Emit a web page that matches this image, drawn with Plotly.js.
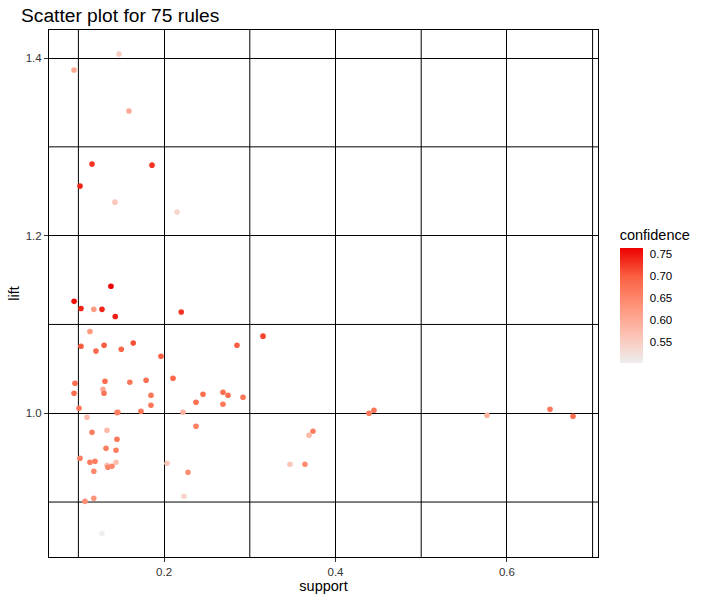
<!DOCTYPE html>
<html>
<head>
<meta charset="utf-8">
<script src="https://cdn.plot.ly/plotly-3.0.1.min.js"></script>
<style>html,body{margin:0;padding:0;background:#fff;}#chart{width:706px;height:602px;}</style>
</head>
<body>
<div id="chart"></div>
<script>
const support = [0.138,0.095,0.103,0.118,0.1275,0.143,0.220,0.1135,0.103,0.130,0.1205,0.164,0.150,0.285,0.1964,0.3154,0.096,0.131,0.160,0.179,0.2104,0.0949,0.1287,0.1299,0.1847,0.1847,0.2454,0.2372,0.2687,0.2746,0.2687,0.2921,0.1007,0.145,0.173,0.2221,0.110,0.2372,0.1159,0.1334,0.145,0.1322,0.1439,0.1019,0.1135,0.1194,0.1334,0.1439,0.1345,0.1392,0.118,0.2034,0.2279,0.2232,0.1077,0.118,0.1275,0.3737,0.3691,0.3469,0.3644,0.4391,0.4449,0.5768,0.6503,0.6771,0.1474,0.0949,0.159,0.1159,0.1859,0.1019,0.1427,0.2151,0.146];
const lift = [1.143,1.126,1.118,1.117,1.117,1.109,1.114,1.092,1.0755,1.0766,1.070,1.079,1.072,1.0766,1.0642,1.0868,1.0338,1.0361,1.0349,1.0372,1.0394,1.0225,1.027,1.0225,1.0203,1.009,1.0214,1.0124,1.0237,1.0203,1.0101,1.018,1.0056,1.0007,1.0023,1.0011,0.9955,0.9854,0.9786,0.9808,0.9707,0.9606,0.9583,0.9493,0.9448,0.9459,0.9414,0.9448,0.9392,0.9403,0.9346,0.9437,0.9335,0.9065,0.9008,0.9042,0.8648,0.9797,0.9752,0.9425,0.9425,1.0000,1.0034,0.9977,1.0045,0.9966,1.4045,1.3865,1.3403,1.2806,1.2794,1.2558,1.2377,1.2265,1.001];
const confidence = [0.765,0.755,0.74,0.62,0.74,0.745,0.73,0.625,0.70,0.70,0.685,0.71,0.69,0.70,0.70,0.72,0.68,0.68,0.67,0.68,0.69,0.68,0.60,0.67,0.67,0.67,0.68,0.68,0.68,0.68,0.67,0.67,0.67,0.66,0.67,0.59,0.58,0.66,0.66,0.58,0.67,0.66,0.66,0.66,0.66,0.66,0.57,0.57,0.65,0.65,0.65,0.56,0.64,0.54,0.64,0.63,0.503,0.66,0.58,0.56,0.64,0.67,0.67,0.59,0.67,0.68,0.55,0.60,0.60,0.73,0.73,0.74,0.56,0.54,0.66];

const xTickVals = [0.2, 0.4, 0.6];
const xTickText = ["0.2", "0.4", "0.6"];
const yTickVals = [1.0, 1.2, 1.4];
const yTickText = ["1.0", "1.2", "1.4"];
const xMinorGrid = [0.1, 0.3, 0.5, 0.7];
const yMinorGrid = [0.9, 1.1, 1.3];
const legendTicks = [0.55, 0.60, 0.65, 0.70, 0.75];

const FONT = "Liberation Sans, Arial, sans-serif";

const trace = {
  type: "scatter",
  mode: "markers",
  x: support,
  y: lift,
  marker: {
    size: 5.6,
    color: confidence,
    colorscale: [[0,"#EEEEEE"],[0.25,"rgb(252,193,178)"],[0.5,"rgb(255,147,120)"],[0.75,"rgb(250,96,65)"],[1,"#EE0000"]],
    line: {width: 0},
    showscale: true,
    colorbar: {
      title: {text: "confidence", side: "top", font: {family: FONT, size: 14.5, color: "#000"}},
      thickness: 23, thicknessmode: "pixels",
      len: 136, lenmode: "pixels",
      x: 1.0395, xanchor: "left", xref: "paper",
      y: 0.3689, yanchor: "bottom",
      xpad: 0, ypad: 0,
      outlinewidth: 0,
      tickvals: legendTicks,
      ticktext: legendTicks.map(v => v.toFixed(2)),
      ticks: "outside", ticklen: 5, tickcolor: "#fff", tickwidth: 1,
      tickfont: {family: FONT, size: 11.5, color: "#000"}
    }
  },
  hoverinfo: "x+y"
};

const shapes = [];
xMinorGrid.forEach(v => shapes.push({type:"line", xref:"x", yref:"paper", x0:v, x1:v, y0:0, y1:1, line:{color:"#000", width:1}, layer:"below"}));
yMinorGrid.forEach(v => shapes.push({type:"line", xref:"paper", yref:"y", x0:0, x1:1, y0:v, y1:v, line:{color:"#000", width:1}, layer:"below"}));

const layout = {
  width: 706, height: 602,
  margin: {l: 49, r: 108, t: 30, b: 45, pad: 0},
  paper_bgcolor: "#fff", plot_bgcolor: "#fff",
  font: {family: FONT, color: "#000"},
  showlegend: false,
  title: {text: "Scatter plot for 75 rules", x: 21/706, xanchor: "left", xref: "container", y: 1 - 15/602, yanchor: "middle", yref: "container", font: {family: FONT, size: 19.2, color: "#000"}},
  xaxis: {
    range: [0.0657, 0.7063],
    tickvals: xTickVals, ticktext: xTickText,
    showgrid: true, gridcolor: "#000", gridwidth: 1,
    zeroline: false,
    showline: true, mirror: true, linecolor: "#000", linewidth: 1,
    ticks: "outside", ticklen: 4, tickcolor: "#333", tickwidth: 1,
    tickfont: {family: FONT, size: 11.5, color: "#333"},
    title: {text: "support", font: {family: FONT, size: 14.5, color: "#000"}, standoff: 4}
  },
  yaxis: {
    range: [0.8381, 1.4316],
    tickvals: yTickVals, ticktext: yTickText,
    showgrid: true, gridcolor: "#000", gridwidth: 1,
    zeroline: false,
    showline: true, mirror: true, linecolor: "#000", linewidth: 1,
    ticks: "outside", ticklen: 4, tickcolor: "#333", tickwidth: 1,
    tickfont: {family: FONT, size: 11.5, color: "#333"},
    title: {text: "lift", font: {family: FONT, size: 14.5, color: "#000"}, standoff: 2}
  },
  shapes: shapes
};

Plotly.newPlot("chart", [trace], layout, {displayModeBar: false, staticPlot: true});
</script>
</body>
</html>
